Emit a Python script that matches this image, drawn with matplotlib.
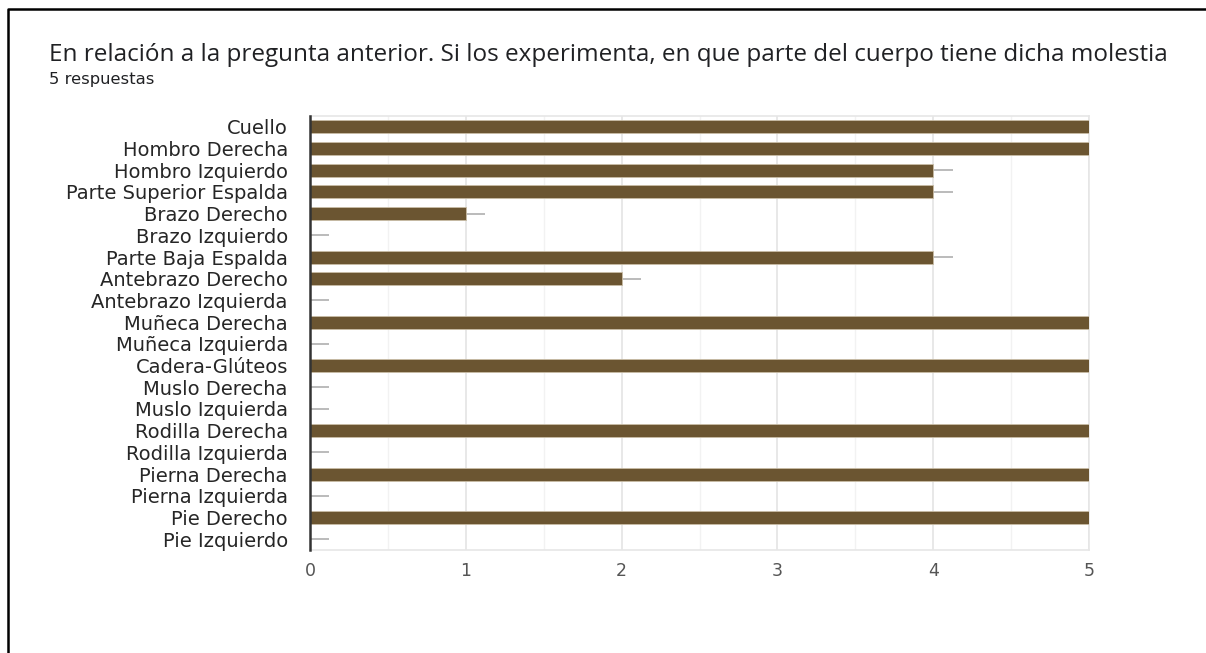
import matplotlib.pyplot as plt
from matplotlib.lines import Line2D

# body parts and number of answers for each one
partes = [
    "Cuello", "Hombro Derecha", "Hombro Izquierdo", "Parte Superior Espalda",
    "Brazo Derecho", "Brazo Izquierdo", "Parte Baja Espalda", "Antebrazo Derecho",
    "Antebrazo Izquierda", "Muñeca Derecha", "Muñeca Izquierda", "Cadera-Glúteos",
    "Muslo Derecha", "Muslo Izquierda", "Rodilla Derecha", "Rodilla Izquierda",
    "Pierna Derecha", "Pierna Izquierda", "Pie Derecho", "Pie Izquierdo",
]
respuestas = [5, 5, 4, 4, 1, 0, 4, 2, 0, 5, 0, 5, 0, 0, 5, 0, 5, 0, 5, 0]
xticks = [0, 1, 2, 3, 4, 5]

W, H = 1206, 653
fig = plt.figure(figsize=(W / 100, H / 100), dpi=100)

# frame of the card (only left and top visible)
fig.add_artist(Line2D([8 / W, 8 / W, 1], [0, 1 - 8.5 / H, 1 - 8.5 / H],
                      transform=fig.transFigure, color="black", lw=1.8))

fig.text(49 / W, 1 - 61 / H, "En relación a la pregunta anterior. Si los experimenta, "
         "en que parte del cuerpo tiene dicha molestia",
         family="Open Sans", fontsize=17.5, color="#202124", va="baseline")
fig.text(49 / W, 1 - 84 / H, "5 respuestas", family="DejaVu Sans", fontsize=11.8,
         color="#202124", va="baseline")

ax = fig.add_axes([310 / W, 1 - 550 / H, 779 / W, 434 / H])
y = list(range(len(partes)))
ax.barh(y, respuestas, height=0.6, color="#6b5531", edgecolor="#c9bda6",
        linewidth=0.6, zorder=3)

# small leader lines at the end of every bar
for yi, v in zip(y, respuestas):
    ax.plot([v, v + 0.125], [yi, yi], color="#a8a8a8", lw=1.1, zorder=2,
            solid_capstyle="butt")

ax.set_xlim(0, 5)
ax.set_ylim(len(partes) - 0.5, -0.5)
ax.set_yticks(y)
ax.set_yticklabels(partes, family="DejaVu Sans", fontsize=14, color="#262626")
ax.set_xticks(xticks)
ax.set_xticklabels([str(t) for t in xticks], family="DejaVu Sans",
                   fontsize=12.5, color="#555555")
ax.set_xticks([0.5, 1.5, 2.5, 3.5, 4.5], minor=True)
ax.tick_params(axis="both", which="both", length=0)
ax.tick_params(axis="x", pad=8.5)
ax.tick_params(axis="y", pad=16)

ax.grid(axis="x", which="major", color="#e4e4e4", lw=1.2, zorder=0)
ax.grid(axis="x", which="minor", color="#f2f2f2", lw=1.0, zorder=0)
for side in ("top", "right", "bottom"):
    ax.spines[side].set_color("#e6e6e6")
    ax.spines[side].set_linewidth(1.2)
ax.spines["left"].set_color("#333333")
ax.spines["left"].set_linewidth(1.8)
ax.spines["left"].set_zorder(5)

fig.savefig("out.png", dpi=100)
